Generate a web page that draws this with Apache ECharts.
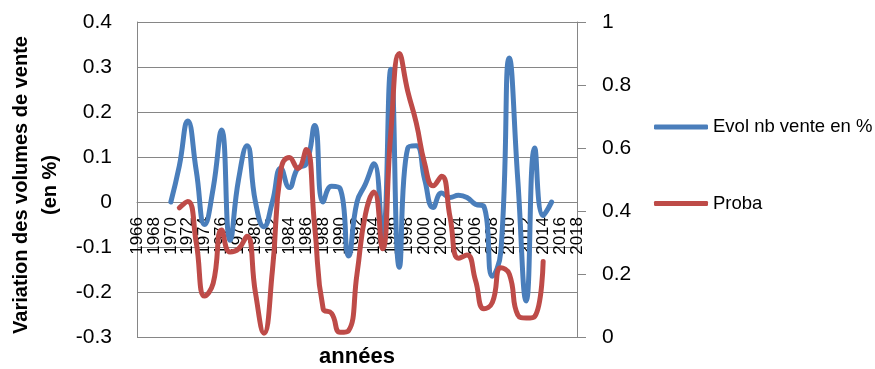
<!DOCTYPE html>
<html>
<head>
<meta charset="utf-8">
<script src="https://cdn.jsdelivr.net/npm/echarts@6/dist/echarts.min.js"></script>
<style>
html,body{margin:0;padding:0;background:#fff;}
#chart{width:875px;height:369px;}
</style>
</head>
<body>
<div id="chart"></div>
<script>
// Categories (years) shown on the x axis
const years = [];
for (let y = 1966; y <= 2018; y++) years.push(String(y));

// Evol nb vente en % : 1970 .. 2015 (left axis)
const evolStart = 1970;
const evolVente = [
  0.0, 0.08, 0.18, 0.07, -0.05, 0.03, 0.16, -0.085, 0.05, 0.125,
  0.0, -0.055, 0.0, 0.075, 0.032, 0.075, 0.085, 0.17, 0.0, 0.035,
  0.03, -0.12, 0.0, 0.04, 0.085, -0.08, 0.295, -0.145, 0.12, 0.125,
  0.05, -0.012, 0.02, 0.01, 0.015, 0.01, -0.005, -0.01, -0.165, -0.11,
  0.32, 0.05, -0.22, 0.12, -0.03, 0.0
];

// Proba : 1971 .. 2014 (right axis)
const probaStart = 1971;
const proba = [
  0.41, 0.43, 0.30, 0.13, 0.17, 0.34, 0.27, 0.28, 0.32, 0.14,
  0.012, 0.21, 0.53, 0.57, 0.535, 0.595, 0.35, 0.09, 0.075, 0.015,
  0.02, 0.20, 0.39, 0.46, 0.28, 0.65, 0.90, 0.78, 0.68, 0.55,
  0.48, 0.51, 0.38, 0.25, 0.26, 0.18, 0.09, 0.11, 0.22, 0.20,
  0.07, 0.06, 0.065, 0.24
];

const leftTicks = { min: -0.3, max: 0.4, interval: 0.1 };
const rightTicks = { min: 0, max: 1, interval: 0.2 };

function pad(values, start) {
  return years.map(y => {
    const i = Number(y) - start;
    return (i >= 0 && i < values.length) ? values[i] : null;
  });
}

const FONT = 'Liberation Sans, Arial, sans-serif';
const fmt = v => (Math.abs(v) < 1e-9 ? '0' : (Math.round(v * 10) / 10).toString());

const GRID = { left: 137, right: 298, top: 22, bottom: 32 };
const plotH = 369 - GRID.top - GRID.bottom;
// place the category axis where the left value axis crosses zero
const zeroOffset = -plotH * (0 - leftTicks.min) / (leftTicks.max - leftTicks.min);

const chart = echarts.init(document.getElementById('chart'), null, { renderer: 'canvas' });
chart.setOption({
  animation: false,
  backgroundColor: '#ffffff',
  grid: Object.assign({ containLabel: false }, GRID),
  legend: {
    orient: 'vertical',
    left: 649,
    top: 111,
    itemWidth: 54,
    itemHeight: 5,
    itemGap: 54.6,
    icon: 'roundRect',
    textStyle: { fontFamily: FONT, fontSize: 18.5, color: '#000', lineHeight: 22 },
    data: ['Evol nb vente en %', 'Proba']
  },
  xAxis: {
    type: 'category',
    data: years,
    boundaryGap: false,
    position: 'bottom',
    offset: zeroOffset,
    axisLine: { show: true, onZero: false, lineStyle: { color: '#868686', width: 1 } },
    axisTick: { show: false },
    axisLabel: {
      interval: 1,
      rotate: 90,
      margin: 15,
      fontFamily: FONT,
      fontSize: 17,
      color: '#000'
    },
    splitLine: { show: false }
  },
  yAxis: [
    {
      type: 'value',
      min: leftTicks.min, max: leftTicks.max, interval: leftTicks.interval,
      axisLine: { show: true, lineStyle: { color: '#868686', width: 1 } },
      axisTick: { show: false },
      axisLabel: { formatter: fmt, fontFamily: FONT, fontSize: 21, color: '#000', margin: 25 },
      splitLine: { show: true, lineStyle: { color: '#868686', width: 1 } }
    },
    {
      type: 'value',
      min: rightTicks.min, max: rightTicks.max, interval: rightTicks.interval,
      position: 'right',
      axisLine: { show: true, lineStyle: { color: '#868686', width: 1 } },
      axisTick: { show: true, inside: false, length: 9, lineStyle: { color: '#868686' } },
      axisLabel: { formatter: fmt, fontFamily: FONT, fontSize: 21, color: '#000', margin: 25 },
      splitLine: { show: false }
    }
  ],
  series: [
    {
      name: 'Evol nb vente en %',
      type: 'line',
      yAxisIndex: 0,
      data: pad(evolVente, evolStart),
      smooth: 0.5,
      showSymbol: false,
      symbol: 'none',
      connectNulls: false,
      lineStyle: { color: '#4A7EBB', width: 5, cap: 'round', join: 'round' },
      itemStyle: { color: '#4A7EBB' },
      z: 3
    },
    {
      name: 'Proba',
      type: 'line',
      yAxisIndex: 1,
      data: pad(proba, probaStart),
      smooth: 0.5,
      showSymbol: false,
      symbol: 'none',
      connectNulls: false,
      lineStyle: { color: '#BE4B48', width: 5, cap: 'round', join: 'round' },
      itemStyle: { color: '#BE4B48' },
      z: 4
    }
  ],
  graphic: [
    {
      type: 'text',
      x: 36, y: 185,
      rotation: Math.PI / 2,
      style: {
        text: 'Variation des volumes de vente\n(en %)',
        font: 'bold 20px Liberation Sans, Arial, sans-serif',
        fill: '#000',
        textAlign: 'center',
        textVerticalAlign: 'middle',
        lineHeight: 29
      }
    },
    {
      type: 'text',
      x: 357, y: 357,
      style: {
        text: 'années',
        font: 'bold 22px Liberation Sans, Arial, sans-serif',
        fill: '#000',
        textAlign: 'center',
        textVerticalAlign: 'middle'
      }
    }
  ]
});
</script>
</body>
</html>
